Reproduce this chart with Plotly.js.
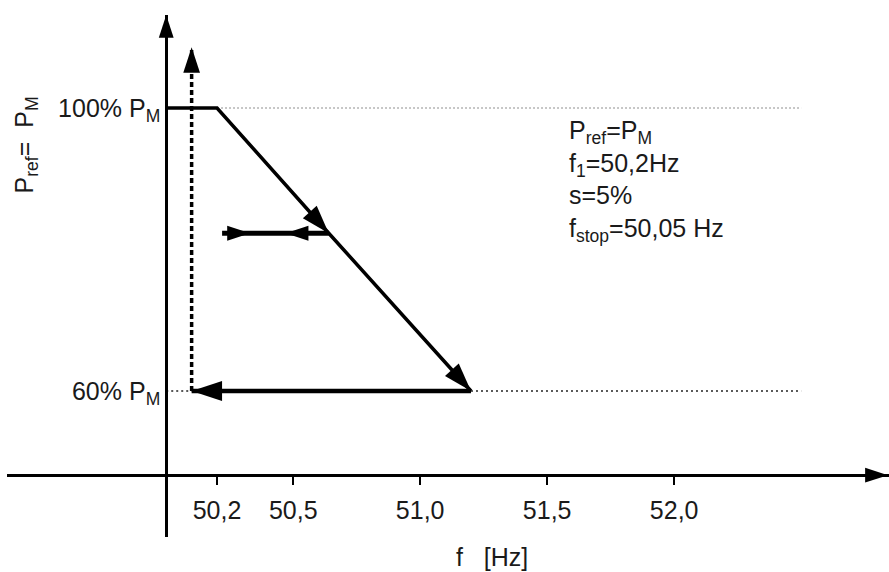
<!DOCTYPE html>
<html><head><meta charset="utf-8">
<script src="https://cdn.plot.ly/plotly-3.0.1.min.js"></script>
<style>html,body{margin:0;padding:0;background:#fff;}#chart{width:889px;height:572px;}</style>
</head><body><div id="chart"></div>
<script>
// ---- data: frequency in Hz, active power in % of P_M ----
const tickFreq = [50.2, 50.5, 51.0, 51.5, 52.0];
const tickFreqText = ['50,2', '50,5', '51,0', '51,5', '52,0'];
const tickPower = [60, 100];
const tickPowerText = ['60% P<sub>M</sub>', '100% P<sub>M</sub>'];

// characteristic: flat at 100 % up to f1, then droop down to 60 %
const curveFreq = [50.0, 50.2, 50.64, 51.2];
const curvePower = [100, 100, 82.3, 60];

// return path at 60 % back to f_stop, then restore upward
const returnFreq = [51.2, 50.1];
const returnPower = [60, 60];
const restoreFreq = [50.1, 50.1];
const restorePower = [60, 108.6];

// intermediate hold level
const midFreq = [50.22, 50.64];
const midPower = [82.3, 82.3];
const midArrowFreq = [50.33, 50.47];
const midArrowPower = [82.3, 82.3];
const midArrowAngle = [90, -90];

// dotted reference levels
const refTopFreq = [50.2, 52.5];
const refTopPower = [100, 100];
const refBottomFreq = [50.0, 50.1, null, 51.2, 52.5];
const refBottomPower = [60, 60, null, 60, 60];

// axes frame
const X_RANGE = [49.373, 52.846];
const Y_RANGE = [39.36, 113.15];
const AXIS_F = 50.0;        // frequency at which the power axis stands
const AXIS_P = 48.1;        // power level along which the frequency axis runs
const AXIS_ARROW_F = 52.842; // tip of the frequency-axis arrow (at the right edge)

const BLACK = '#000';
const FONT = '"Liberation Sans", Arial, sans-serif';
const FS = 25;
const TXT = '#1a1a1a';

const traces = [
  {x: refTopFreq, y: refTopPower, mode: 'lines', hoverinfo: 'skip',
   line: {color: '#b4b4b4', width: 1.5, dash: '2px,2px'}},
  {x: refBottomFreq, y: refBottomPower, mode: 'lines', hoverinfo: 'skip', connectgaps: false,
   line: {color: '#222', width: 1.5, dash: '2px,3px'}},
  {x: curveFreq, y: curvePower, mode: 'lines+markers',
   line: {color: BLACK, width: 3.5, backoff: 0},
   marker: {symbol: 'arrow', angleref: 'previous', size: [0, 0, 30, 30], color: BLACK, opacity: 1, line: {width: 0}}},
  {x: returnFreq, y: returnPower, mode: 'lines+markers',
   line: {color: BLACK, width: 4.5, backoff: 0},
   marker: {symbol: 'arrow', angleref: 'previous', size: [0, 32], color: BLACK, opacity: 1, line: {width: 0}}},
  {x: restoreFreq, y: restorePower, mode: 'lines+markers',
   line: {color: BLACK, width: 3.5, dash: '5px,3px', backoff: 0},
   marker: {symbol: 'arrow', angleref: 'previous', size: [0, 27], color: BLACK, opacity: 1, line: {width: 0}}},
  {x: midFreq, y: midPower, mode: 'lines',
   line: {color: BLACK, width: 5}},
  {x: midArrowFreq, y: midArrowPower, mode: 'markers',
   marker: {symbol: 'arrow', angle: midArrowAngle, size: 24, color: BLACK, opacity: 1, line: {width: 0}}},
  {x: [AXIS_F, AXIS_ARROW_F], y: [Y_RANGE[1], AXIS_P], mode: 'markers', cliponaxis: false, hoverinfo: 'skip',
   marker: {symbol: 'arrow', angle: [0, 90], size: 24, color: BLACK, opacity: 1, line: {width: 0}}}
];

const layout = {
  width: 889, height: 572,
  margin: {l: 7, r: 0, t: 15, b: 35, pad: 0},
  paper_bgcolor: '#fff', plot_bgcolor: '#fff',
  showlegend: false,
  font: {family: FONT, size: FS, color: TXT},
  xaxis: {
    range: X_RANGE, anchor: 'free',
    position: (AXIS_P - Y_RANGE[0]) / (Y_RANGE[1] - Y_RANGE[0]),
    showline: true, linecolor: BLACK, linewidth: 3,
    showgrid: false, zeroline: false,
    tickmode: 'array', tickvals: tickFreq, ticktext: tickFreqText,
    ticks: 'outside', ticklen: 8, tickwidth: 1.5, tickcolor: BLACK,
    ticklabelstandoff: 4,
    tickfont: {family: FONT, size: FS, color: TXT},
    fixedrange: true
  },
  yaxis: {
    range: Y_RANGE, anchor: 'free',
    position: (AXIS_F - X_RANGE[0]) / (X_RANGE[1] - X_RANGE[0]),
    showline: true, linecolor: BLACK, linewidth: 3,
    showgrid: false, zeroline: false,
    tickmode: 'array', tickvals: tickPower, ticktext: tickPowerText,
    ticks: '', tickfont: {family: FONT, size: FS, color: TXT},
    fixedrange: true
  },
  annotations: [
    {xref: 'paper', yref: 'paper', x: 0.635, y: 0.81, xanchor: 'left', yanchor: 'top',
     align: 'left', showarrow: false, font: {family: FONT, size: FS, color: TXT},
     text: 'P<sub>ref</sub>=P<sub>M</sub><br>f<sub>1</sub>=50,2Hz<br>s=5%<br>f<sub>stop</sub>=50,05 Hz'},
    {xref: 'paper', yref: 'paper', x: 0.0215, y: 0.752, xanchor: 'center', yanchor: 'middle',
     textangle: -90, showarrow: false, font: {family: FONT, size: FS, color: TXT},
     text: 'P<sub>ref</sub>=\u00a0 P<sub>M</sub>'},
    {xref: 'paper', yref: 'paper', x: 0.55, y: -0.038, xanchor: 'center', yanchor: 'middle',
     showarrow: false, font: {family: FONT, size: FS, color: TXT},
     text: 'f\u00a0\u00a0\u00a0[Hz]'}
  ]
};

Plotly.newPlot('chart', traces, layout, {displayModeBar: false, staticPlot: true});
</script>
</body></html>
